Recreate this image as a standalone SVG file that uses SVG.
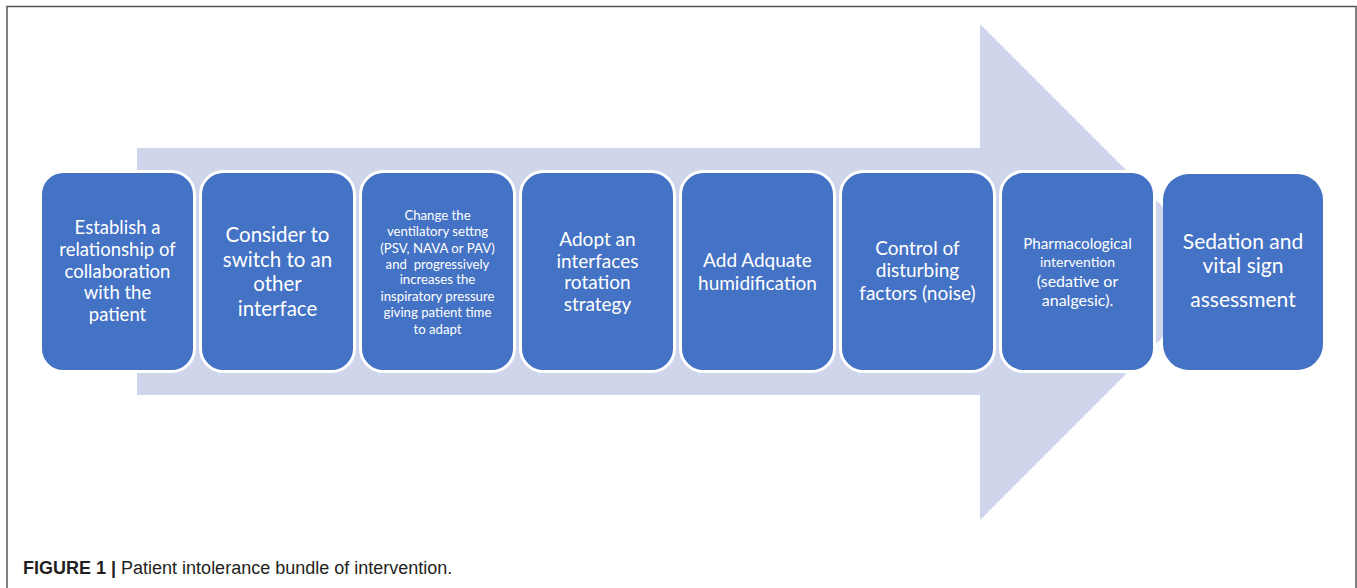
<svg xmlns="http://www.w3.org/2000/svg" width="1357" height="588" viewBox="0 0 1357 588">
<style>
.frame{fill:none;stroke:#555;stroke-width:1.5}
.arrow{fill:#CFD5EA}
.box{fill:#4472C4;stroke:#fff;stroke-width:3}
.last{fill:#4472C4}
.t{font-family:Lato,"Liberation Sans",sans-serif;fill:#fff;text-anchor:middle}
.cap{font-family:"Liberation Sans",Arial,sans-serif;font-size:18px;fill:#231f20}
</style>
<rect width="1357" height="588" fill="#fff"/>
<path class="frame" d="M7,588 V6.5 H1356 V588"/>
<g id="connectors">
<polygon id="arrow" class="arrow" points="137,148 980,148 980,24 1228,272 980,520 980,395 137,395"/>
</g>
<g id="n1">
<rect class="box" x="40.5" y="171.5" width="154" height="200" rx="23"/>
<text class="t" font-size="18.5"><tspan x="117.5" y="234">Establish a</tspan><tspan x="117.5" y="256">relationship of</tspan><tspan x="117.5" y="277.5">collaboration</tspan><tspan x="117.5" y="299">with the</tspan><tspan x="117.5" y="320.5">patient</tspan></text>
</g>
<g id="n2">
<rect class="box" x="200.5" y="171.5" width="154" height="200" rx="23"/>
<text class="t" font-size="20.5"><tspan x="277.5" y="242">Consider to</tspan><tspan x="277.5" y="266.5">switch to an</tspan><tspan x="277.5" y="291">other</tspan><tspan x="277.5" y="315.5">interface</tspan></text>
</g>
<g id="n3">
<rect class="box" x="360.5" y="171.5" width="154" height="200" rx="23"/>
<text class="t" font-size="13.2"><tspan x="437.5" y="219.5">Change the</tspan><tspan x="437.5" y="236">ventilatory settng</tspan><tspan x="437.5" y="252.5">(PSV, NAVA or PAV)</tspan><tspan x="437.5" y="268.5">and&#160; progressively</tspan><tspan x="437.5" y="284">increases the</tspan><tspan x="437.5" y="300.5">inspiratory pressure</tspan><tspan x="437.5" y="317">giving patient time</tspan><tspan x="437.5" y="333.5">to adapt</tspan></text>
</g>
<g id="n4">
<rect class="box" x="520.5" y="171.5" width="154" height="200" rx="23"/>
<text class="t" font-size="19"><tspan x="597.5" y="246">Adopt an</tspan><tspan x="597.5" y="267.5">interfaces</tspan><tspan x="597.5" y="289">rotation</tspan><tspan x="597.5" y="310.5">strategy</tspan></text>
</g>
<g id="n5">
<rect class="box" x="680.5" y="171.5" width="154" height="200" rx="23"/>
<text class="t" font-size="19"><tspan x="757.5" y="267">Add Adquate</tspan><tspan x="757.5" y="289.5">humidification</tspan></text>
</g>
<g id="n6">
<rect class="box" x="840.5" y="171.5" width="154" height="200" rx="23"/>
<text class="t" font-size="19"><tspan x="917.5" y="255">Control of</tspan><tspan x="917.5" y="277">disturbing</tspan><tspan x="917.5" y="299.5">factors (noise)</tspan></text>
</g>
<g id="n7">
<rect class="box" x="1000.5" y="171.5" width="154" height="200" rx="23"/>
<text class="t"><tspan x="1077.5" y="248.5" font-size="15.2">Pharmacological</tspan><tspan x="1077.5" y="267" font-size="14">intervention</tspan><tspan x="1077.5" y="287" font-size="16">(sedative or</tspan><tspan x="1077.5" y="306" font-size="16">analgesic).</tspan></text>
</g>
<g id="n8">
<rect class="last" x="1163" y="174" width="160" height="196" rx="26"/>
<text class="t" font-size="21"><tspan x="1243" y="248.5">Sedation and</tspan><tspan x="1243" y="273">vital sign</tspan><tspan x="1243" y="307">assessment</tspan></text>
</g>
<text class="cap" x="23" y="574"><tspan font-weight="bold">FIGURE 1 |</tspan> Patient intolerance bundle of intervention.</text>
</svg>
